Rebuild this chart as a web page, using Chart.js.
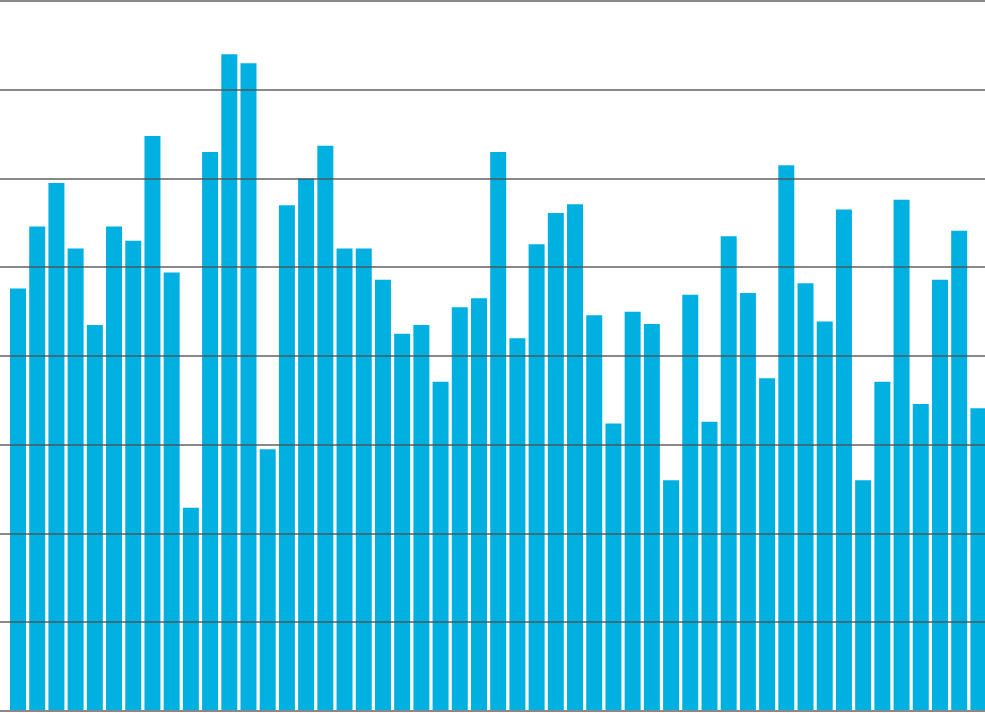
<!DOCTYPE html>
<html>
<head>
<meta charset="utf-8">
<script src="https://cdn.jsdelivr.net/npm/chart.js@4"></script>
<style>
  html, body { margin: 0; padding: 0; overflow: hidden; background: #ffffff; }
  #wrap { position: relative; width: 988px; height: 713px; }
</style>
</head>
<body>
<div id="wrap"><canvas id="c" width="988" height="713"></canvas></div>
<script>
const categories = ["1","2","3","4","5","6","7","8","9","10","11","12","13","14","15","16","17","18","19","20","21","22","23","24","25","26","27","28","29","30","31","32","33","34","35","36","37","38","39","40","41","42","43","44","45","46","47","48","49","50","51"];
const seriesValues = [47.6, 54.6, 59.5, 52.1, 43.5, 54.6, 53.0, 64.8, 49.4, 22.9,
                      63.0, 74.0, 73.0, 29.5, 57.0, 60.0, 63.7, 52.1, 52.1, 48.6,
                      42.5, 43.5, 37.1, 45.5, 46.5, 63.0, 42.0, 52.6, 56.1, 57.1,
                      44.6, 32.4, 45.0, 43.6, 26.0, 46.9, 32.6, 53.5, 47.1, 37.5,
                      61.5, 48.2, 43.9, 56.5, 26.0, 37.1, 57.6, 34.6, 48.6, 54.1,
                      34.1];
const yTicks = [0, 10, 20, 30, 40, 50, 60, 70, 80];

new Chart(document.getElementById('c'), {
  type: 'bar',
  data: {
    labels: categories,
    datasets: [{
      data: seriesValues,
      backgroundColor: '#00B0E0',
      borderWidth: 0,
      categoryPercentage: 1.0,
      barPercentage: 0.833
    }]
  },
  options: {
    responsive: false,
    animation: false,
    layout: { padding: { top: 1, right: 0, bottom: 2, left: 0 } },
    plugins: { legend: { display: false }, tooltip: { enabled: false } },
    scales: {
      x: { display: false },
      y: {
        min: yTicks[0],
        max: yTicks[yTicks.length - 1],
        afterBuildTicks: (scale) => { scale.ticks = yTicks.map(v => ({ value: v })); },
        ticks: { display: false },
        border: { display: false },
        grid: {
          z: 1,
          color: 'rgba(80,80,80,0.68)',
          lineWidth: 2,
          drawTicks: true,
          tickLength: 8.4
        }
      }
    }
  }
});
</script>
</body>
</html>
